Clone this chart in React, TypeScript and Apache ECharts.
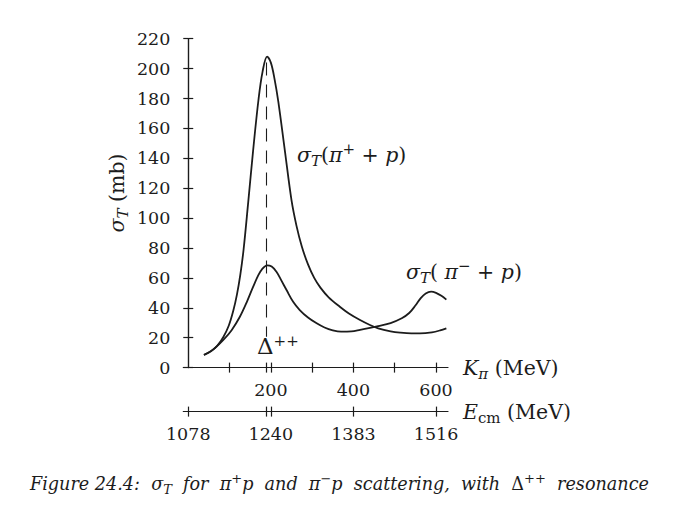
import React, { useEffect, useRef } from 'react'
import * as echarts from 'echarts'

// Kinetic energy of the pion, K_pi (MeV), and total cross sections (mb)
const piPlusK = [38, 55, 70, 85, 98, 109, 118, 126, 134, 145, 157, 170, 180, 191, 200, 209, 218, 234, 250, 262, 275, 290, 305, 320, 340, 367, 390, 416, 440, 460, 490, 513, 540, 561, 590, 610, 625]
const piPlusSigma = [8.5, 11, 14.5, 20.5, 28, 38, 49, 62, 79, 110, 145, 179, 198, 208, 204, 193, 178, 145, 112, 95, 81, 69, 60, 53.5, 47, 40.7, 36, 31.8, 28.5, 26.3, 24.3, 23.4, 22.9, 22.9, 23.6, 24.9, 26.3]

const piMinusK = [38, 60, 85, 105, 125, 142, 157, 170, 178, 191, 202, 214, 226, 238, 254, 270, 290, 311, 330, 350, 370, 395, 416, 440, 460, 490, 517, 535, 550, 563, 575, 588, 600, 613, 625]
const piMinusSigma = [8.4, 12, 18.5, 25, 34, 44, 54, 62, 65.6, 68.4, 67.6, 64, 58, 51.9, 44, 38.5, 33.5, 29.6, 26.8, 24.9, 24, 24.2, 25.2, 26.5, 27.7, 29.8, 33, 36.5, 41.5, 46.5, 49.6, 50.8, 50, 48, 45.5]

// Delta++ resonance marker: K position and dashed line extent (mb)
const resonanceK = 190
const resonanceSpan = [204, 20.7]

// axis ticks
const kTicks = [100, 190, 200, 300, 400, 500, 600]
const kLabels = [200, 400, 600]
const eTicks = [0, 190, 200, 400, 600]
const eLabels = [0, 200, 400, 600]
const eLabelText: Record<number, string> = { 0: '1078', 200: '1240', 400: '1383', 600: '1516' }

const SERIF = '"DejaVu Serif", "Liberation Serif", serif'
const INK = '#1c1c1c'

const rich = (size: number) => {
  const small = Math.round(size * 0.74)
  return {
    r: { fontFamily: SERIF, fontSize: size, lineHeight: size + 6, color: INK },
    i: { fontFamily: SERIF, fontStyle: 'italic', fontSize: size, lineHeight: size + 6, color: INK },
    big: { fontFamily: SERIF, fontSize: size + 3, lineHeight: size + 6, color: INK },
    sub: { fontFamily: SERIF, fontStyle: 'italic', fontSize: small, lineHeight: small, verticalAlign: 'bottom', color: INK },
    subr: { fontFamily: SERIF, fontSize: small, lineHeight: small, verticalAlign: 'bottom', color: INK },
    sup: { fontFamily: SERIF, fontSize: small, lineHeight: small, verticalAlign: 'top', color: INK }
  }
}

const richText = (text: string, x: number, y: number, size: number, extra: any = {}) => ({
  type: 'text',
  x,
  y,
  ...extra,
  style: {
    text,
    rich: rich(size),
    verticalAlign: 'middle',
    align: extra.align || 'left',
    fill: INK
  }
})

const App: React.FC = () => {
  const chartRef = useRef<HTMLDivElement>(null)

  useEffect(() => {
    if (!chartRef.current) return
    document.body.style.margin = '0'
    const chart = echarts.init(chartRef.current, undefined, { renderer: 'svg' })

    const axisFont = { fontFamily: SERIF, fontSize: 17.5, color: INK }
    const line = { lineStyle: { color: INK, width: 1.2 } }

    const kAxisBase = {
      type: 'value' as const,
      gridIndex: 0,
      position: 'bottom' as const,
      min: -12,
      max: 629,
      splitLine: { show: false }
    }

    const option: echarts.EChartsOption = {
      animation: false,
      backgroundColor: '#ffffff',
      grid: { left: 183.3, top: 38.7, width: 264.7, height: 328.9, outerBoundsMode: 'none' } as any,
      xAxis: [
        {
          ...kAxisBase,
          axisLine: { show: true, onZero: false, ...line },
          axisTick: { show: true, customValues: kTicks, length: 5, inside: false, ...line },
          axisLabel: { customValues: kLabels, margin: 13, ...axisFont }
        },
        {
          ...kAxisBase,
          axisLine: { show: false, onZero: false },
          axisTick: { show: true, customValues: kTicks, length: 5, inside: true, ...line },
          axisLabel: { show: false }
        },
        {
          ...kAxisBase,
          offset: 44,
          axisLine: { show: true, onZero: false, ...line },
          axisTick: { show: true, customValues: eTicks, length: 5, inside: false, ...line },
          axisLabel: { customValues: eLabels, margin: 13, formatter: (v: number) => eLabelText[v] ?? '', ...axisFont }
        },
        {
          ...kAxisBase,
          offset: 44,
          axisLine: { show: false, onZero: false },
          axisTick: { show: true, customValues: eTicks, length: 5, inside: true, ...line },
          axisLabel: { show: false }
        }
      ] as any,
      yAxis: [
        {
          type: 'value',
          position: 'left',
          min: 0,
          max: 220,
          interval: 20,
          splitLine: { show: false },
          axisLine: { show: true, onZero: true, ...line },
          axisTick: { show: true, length: 5, inside: false, ...line },
          axisLabel: { margin: 13, ...axisFont }
        },
        {
          type: 'value',
          position: 'left',
          min: 0,
          max: 220,
          interval: 20,
          splitLine: { show: false },
          axisLine: { show: true, onZero: true, lineStyle: { color: INK, width: 1.2 } },
          axisTick: { show: true, length: 5, inside: true, ...line },
          axisLabel: { show: false }
        }
      ] as any,
      series: [
        {
          type: 'line',
          name: 'pi+ p',
          xAxisIndex: 0,
          yAxisIndex: 0,
          data: piPlusK.map((k, i) => [k, piPlusSigma[i]]),
          smooth: 0.35,
          showSymbol: false,
          lineStyle: { color: INK, width: 1.8 },
          markLine: {
            silent: true,
            symbol: 'none',
            label: { show: false },
            lineStyle: { color: INK, width: 1.1, type: [13, 9] as any },
            data: [[{ coord: [resonanceK, resonanceSpan[0]] }, { coord: [resonanceK, resonanceSpan[1]] }]] as any
          }
        },
        {
          type: 'line',
          name: 'pi- p',
          xAxisIndex: 0,
          yAxisIndex: 0,
          data: piMinusK.map((k, i) => [k, piMinusSigma[i]]),
          smooth: 0.35,
          showSymbol: false,
          lineStyle: { color: INK, width: 1.8 }
        }
      ],
      graphic: [
        richText('{i|σ}{sub|T}{r|(}{i|π}{sup|+}{r| + }{i|p}{r|)}', 297, 155, 20.5),
        richText('{i|σ}{sub|T}{r|( }{i|π}{sup|−}{r| + }{i|p}{r|)}', 406, 272, 20.5),
        richText('{big|Δ}{sup|++}', 257, 346, 20),
        richText('{i|σ}{sub|T}{r| (mb)}', 117, 193, 20.5, { rotation: Math.PI / 2, align: 'center' }),
        richText('{i|K}{sub|π}{r| (MeV)}', 463, 368, 20.5),
        richText('{i|E}{subr|cm}{r| (MeV)}', 463, 412, 20.5),
        richText(
          '{i|Figure 24.4:  }{i|σ}{sub|T}{i|  for  }{i|π}{sup|+}{i|p  and  }{i|π}{sup|−}{i|p  scattering,  with  }{r|Δ}{sup|++}{i|  resonance}',
          30,
          484,
          17.6
        )
      ] as any
    }

    chart.setOption(option)
    return () => {
      chart.dispose()
    }
  }, [])

  return <div ref={chartRef} style={{ width: 690, height: 518 }} />
}

export default App
